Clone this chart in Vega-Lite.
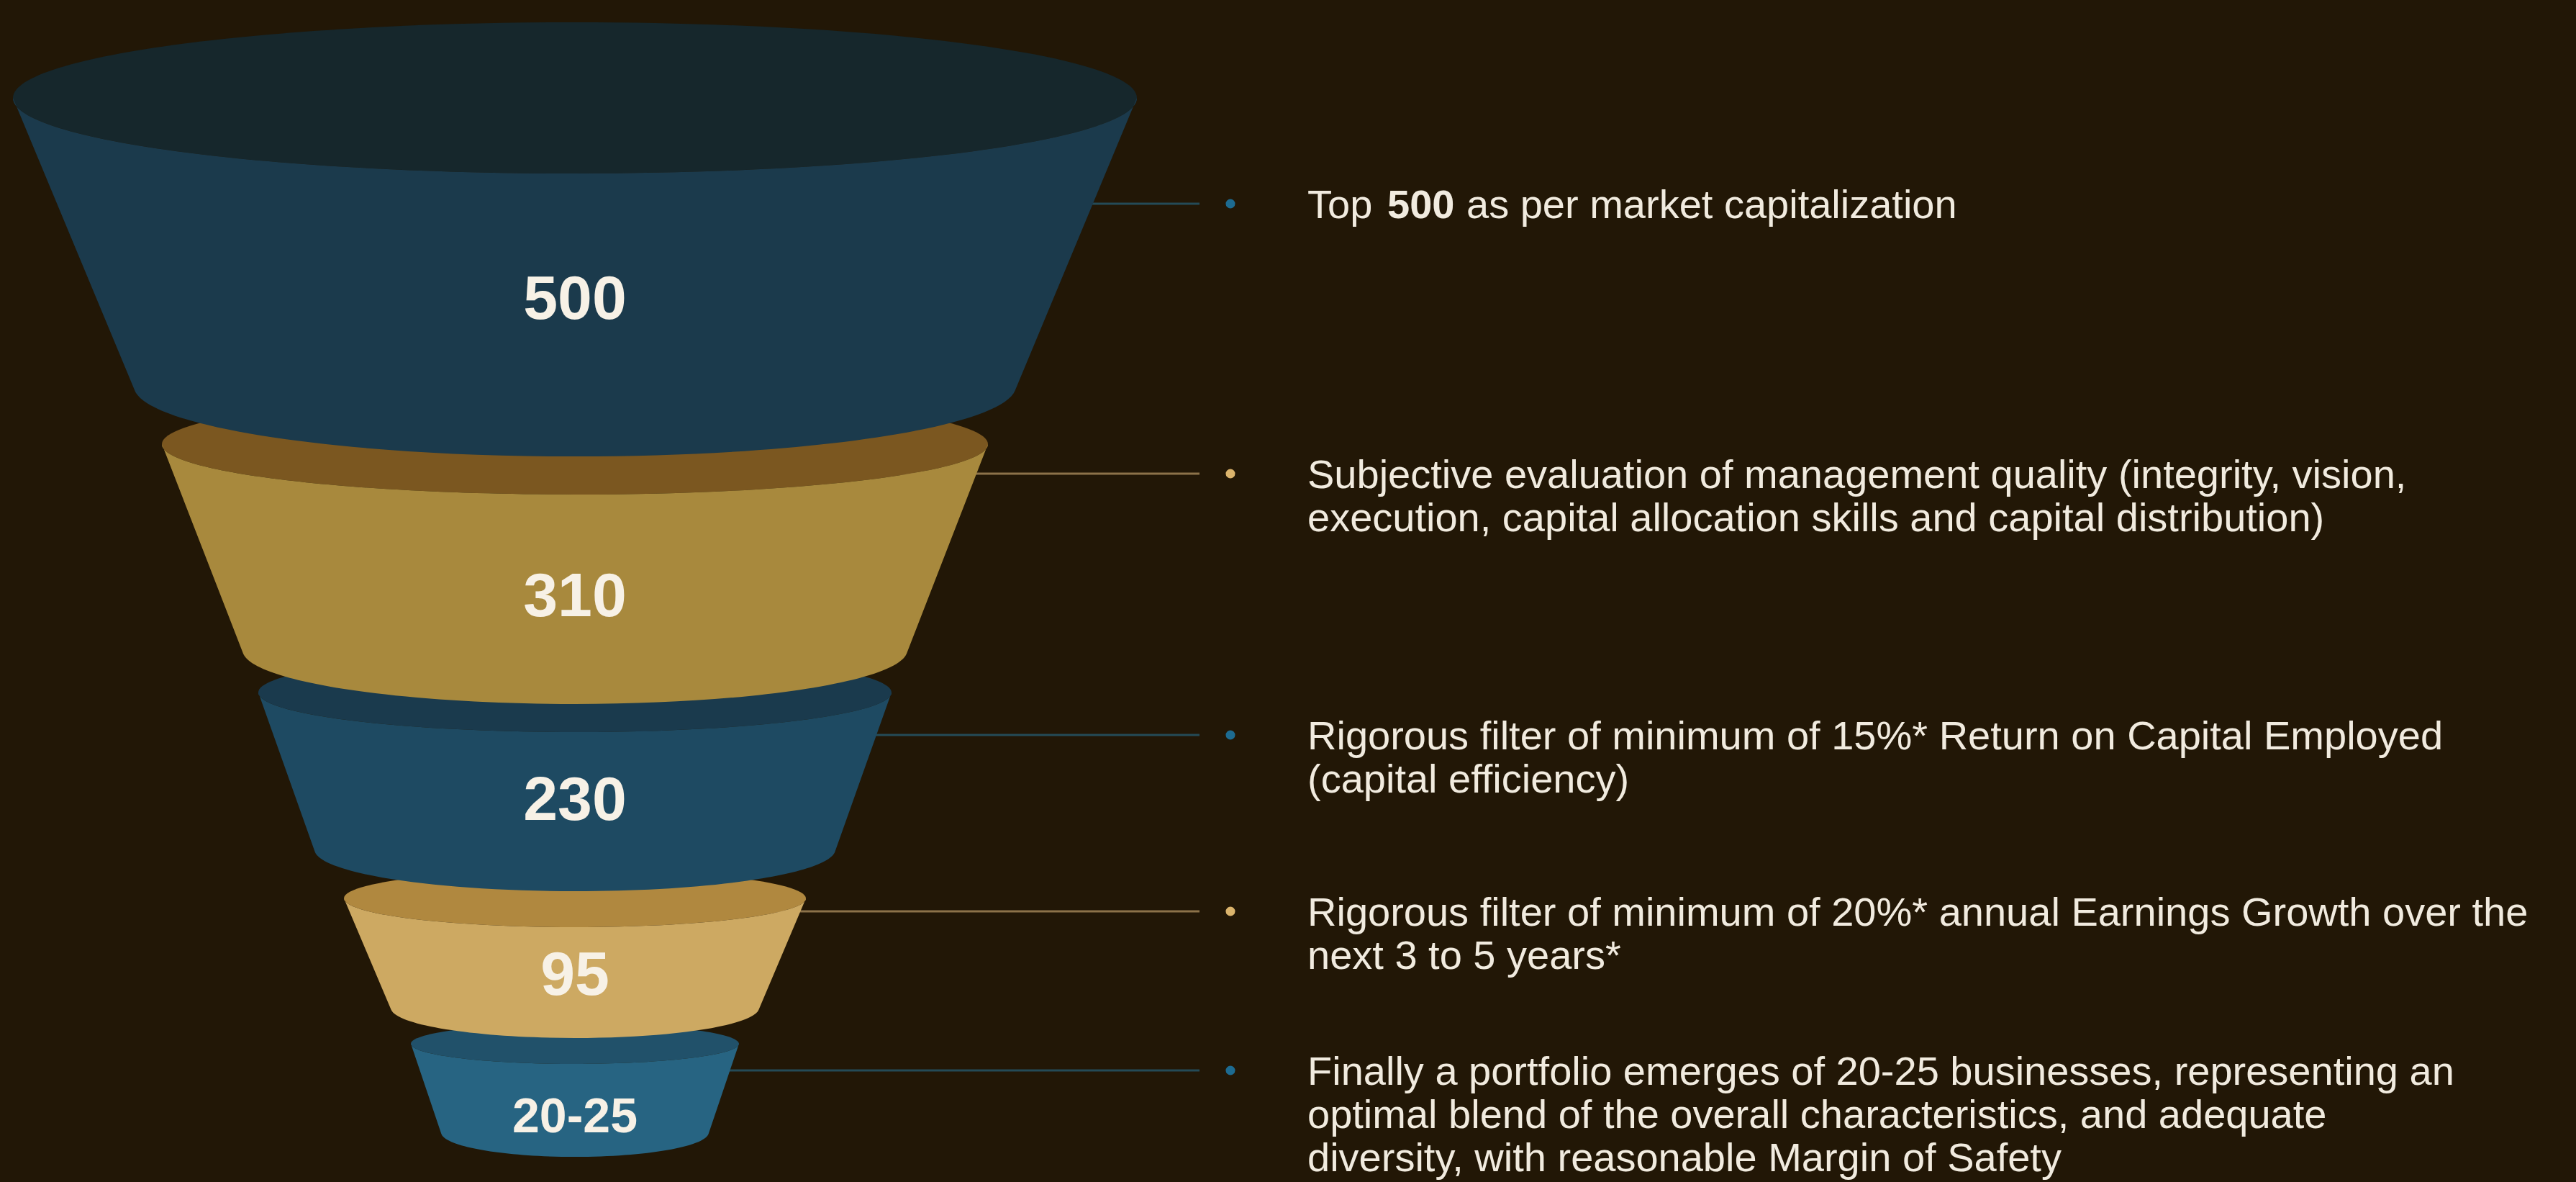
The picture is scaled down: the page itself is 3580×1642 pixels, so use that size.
{
  "$schema": "https://vega.github.io/schema/vega-lite/v6.json",
  "width": 3580,
  "height": 1642,
  "autosize": {"type": "none"},
  "padding": 0,
  "background": "#221706",
  "config": {"view": {"stroke": null}},
  "data": {
    "values": [
      {"stage": 1, "count": "500", "tone": "blue", "lead": "Top", "bold": "500", "rest": "as per market capitalization", "desc": ""},
      {"stage": 2, "count": "310", "tone": "gold", "desc": "Subjective evaluation of management quality (integrity, vision,\nexecution, capital allocation skills and capital distribution)"},
      {"stage": 3, "count": "230", "tone": "blue", "desc": "Rigorous filter of minimum of 15%* Return on Capital Employed\n(capital efficiency)"},
      {"stage": 4, "count": "95", "tone": "gold", "desc": "Rigorous filter of minimum of 20%* annual Earnings Growth over the\nnext 3 to 5 years*"},
      {"stage": 5, "count": "20-25", "tone": "blue", "desc": "Finally a portfolio emerges of 20-25 businesses, representing an\noptimal blend of the overall characteristics, and adequate\ndiversity, with reasonable Margin of Safety"}
    ]
  },
  "layer": [
    {
      "mark": {"type": "rule", "strokeWidth": 3},
      "encoding": {
        "x": {"datum": 799, "type": "quantitative", "scale": {"domain": [0, 3580]}, "axis": null},
        "x2": {"datum": 1667},
        "y": {"field": "stage", "type": "quantitative", "scale": {"domain": [1, 2, 3, 4, 5], "range": [283, 658, 1021, 1266, 1487], "nice": false, "zero": false}, "axis": null},
        "color": {"field": "tone", "type": "nominal", "scale": {"domain": ["blue", "gold"], "range": ["#244b57", "#8c7249"]}, "legend": null}
      }
    },
    {
      "mark": {"type": "point", "filled": true, "opacity": 1, "strokeWidth": 0, "size": 40000},
      "encoding": {
        "x": {"datum": 799, "type": "quantitative", "scale": {"domain": [0, 3580]}, "axis": null},
        "y": {"field": "stage", "type": "quantitative", "scale": {"domain": [1, 2, 3, 4, 5], "range": [411, 824, 1107, 1350, 1547], "nice": false, "zero": false}, "axis": null},
        "shape": {"field": "stage", "type": "nominal", "legend": null, "scale": {"domain": [1, 2, 3, 4, 5], "range": [
          "M-7.81,-2.75 A7.81,1.05 0 1 0 7.81,-2.75 A7.81,1.05 0 1 0 -7.81,-2.75 Z",
          "M-5.74,-2.07 A5.74,0.70 0 1 0 5.74,-2.07 A5.74,0.70 0 1 0 -5.74,-2.07 Z",
          "M-4.40,-1.45 A4.40,0.55 0 1 0 4.40,-1.45 A4.40,0.55 0 1 0 -4.40,-1.45 Z",
          "M-3.21,-1.02 A3.21,0.40 0 1 0 3.21,-1.02 A3.21,0.40 0 1 0 -3.21,-1.02 Z",
          "M-2.28,-0.97 A2.28,0.28 0 1 0 2.28,-0.97 A2.28,0.28 0 1 0 -2.28,-0.97 Z"
        ]}},
        "color": {"field": "stage", "type": "nominal", "legend": null, "scale": {"domain": [1, 2, 3, 4, 5], "range": ["#16272c", "#7b5720", "#1a3a4d", "#b0883f", "#21516a"]}}
      }
    },
    {
      "mark": {"type": "point", "filled": true, "opacity": 1, "strokeWidth": 0, "size": 40000},
      "encoding": {
        "x": {"datum": 799, "type": "quantitative", "scale": {"domain": [0, 3580]}, "axis": null},
        "y": {"field": "stage", "type": "quantitative", "scale": {"domain": [1, 2, 3, 4, 5], "range": [411, 824, 1107, 1350, 1547], "nice": false, "zero": false}, "axis": null},
        "order": {"field": "stage", "type": "quantitative", "sort": "descending"},
        "shape": {"field": "stage", "type": "nominal", "legend": null, "scale": {"domain": [1, 2, 3, 4, 5], "range": [
          "M-7.81,-2.75 A7.81,1.05 0 0 0 7.81,-2.75 L6.117,1.315 A6.13,0.98 0 0 1 -6.117,1.315 Z",
          "M-5.74,-2.07 A5.74,0.70 0 0 0 5.74,-2.07 L4.611,0.837 A4.62,0.75 0 0 1 -4.611,0.837 Z",
          "M-4.40,-1.45 A4.40,0.55 0 0 0 4.40,-1.45 L3.614,0.763 A3.62,0.58 0 0 1 -3.614,0.763 Z",
          "M-3.21,-1.02 A3.21,0.40 0 0 0 3.21,-1.02 L2.554,0.528 A2.56,0.42 0 0 1 -2.554,0.528 Z",
          "M-2.28,-0.97 A2.28,0.28 0 0 0 2.28,-0.97 L1.857,0.28 A1.86,0.34 0 0 1 -1.857,0.28 Z"
        ]}},
        "color": {"field": "stage", "type": "nominal", "legend": null, "scale": {"domain": [1, 2, 3, 4, 5], "range": ["#1b3a4c", "#a8893d", "#1e4a62", "#cda962", "#276482"]}}
      }
    },
    {
      "mark": {"type": "text", "font": "Liberation Sans", "fontWeight": "bold", "baseline": "middle", "align": "center", "dy": 6, "color": "#f7f1e6"},
      "encoding": {
        "x": {"datum": 799, "type": "quantitative", "scale": {"domain": [0, 3580]}, "axis": null},
        "y": {"field": "stage", "type": "quantitative", "scale": {"domain": [1, 2, 3, 4, 5], "range": [411, 824, 1107, 1350, 1547], "nice": false, "zero": false}, "axis": null},
        "text": {"field": "count", "type": "nominal"},
        "size": {"condition": {"test": "datum.stage === 5", "value": 68}, "value": 86}
      }
    },
    {
      "mark": {"type": "point", "shape": "circle", "filled": true, "opacity": 1, "strokeWidth": 0, "size": 170},
      "encoding": {
        "x": {"datum": 1710, "type": "quantitative", "scale": {"domain": [0, 3580]}, "axis": null},
        "y": {"field": "stage", "type": "quantitative", "scale": {"domain": [1, 2, 3, 4, 5], "range": [283, 658, 1021, 1266, 1487], "nice": false, "zero": false}, "axis": null},
        "color": {"field": "tone", "type": "nominal", "scale": {"domain": ["blue", "gold"], "range": ["#1d6b91", "#dbb46c"]}, "legend": null}
      }
    },
    {
      "transform": [{"filter": "datum.stage > 1"}],
      "mark": {"type": "text", "font": "Liberation Sans", "fontSize": 56, "lineHeight": 60, "lineBreak": "\n", "align": "left", "baseline": "alphabetic", "dy": 20, "color": "#f1ebdf"},
      "encoding": {
        "x": {"datum": 1817, "type": "quantitative", "scale": {"domain": [0, 3580]}, "axis": null},
        "y": {"field": "stage", "type": "quantitative", "scale": {"domain": [1, 2, 3, 4, 5], "range": [283, 658, 1021, 1266, 1487], "nice": false, "zero": false}, "axis": null},
        "text": {"field": "desc", "type": "nominal"}
      }
    },
    {
      "transform": [{"filter": "datum.stage === 1"}],
      "mark": {"type": "text", "font": "Liberation Sans", "fontSize": 56, "align": "left", "baseline": "alphabetic", "dy": 20, "color": "#f1ebdf"},
      "encoding": {
        "x": {"datum": 1817, "type": "quantitative", "scale": {"domain": [0, 3580]}, "axis": null},
        "y": {"field": "stage", "type": "quantitative", "scale": {"domain": [1, 2, 3, 4, 5], "range": [283, 658, 1021, 1266, 1487], "nice": false, "zero": false}, "axis": null},
        "text": {"field": "lead", "type": "nominal"}
      }
    },
    {
      "transform": [{"filter": "datum.stage === 1"}],
      "mark": {"type": "text", "font": "Liberation Sans", "fontWeight": "bold", "fontSize": 56, "align": "left", "baseline": "alphabetic", "dx": 111, "dy": 20, "color": "#f1ebdf"},
      "encoding": {
        "x": {"datum": 1817, "type": "quantitative", "scale": {"domain": [0, 3580]}, "axis": null},
        "y": {"field": "stage", "type": "quantitative", "scale": {"domain": [1, 2, 3, 4, 5], "range": [283, 658, 1021, 1266, 1487], "nice": false, "zero": false}, "axis": null},
        "text": {"field": "bold", "type": "nominal"}
      }
    },
    {
      "transform": [{"filter": "datum.stage === 1"}],
      "mark": {"type": "text", "font": "Liberation Sans", "fontSize": 56, "align": "left", "baseline": "alphabetic", "dx": 221, "dy": 20, "color": "#f1ebdf"},
      "encoding": {
        "x": {"datum": 1817, "type": "quantitative", "scale": {"domain": [0, 3580]}, "axis": null},
        "y": {"field": "stage", "type": "quantitative", "scale": {"domain": [1, 2, 3, 4, 5], "range": [283, 658, 1021, 1266, 1487], "nice": false, "zero": false}, "axis": null},
        "text": {"field": "rest", "type": "nominal"}
      }
    }
  ],
  "resolve": {"scale": {"y": "independent", "color": "independent", "shape": "independent", "size": "independent"}}
}
